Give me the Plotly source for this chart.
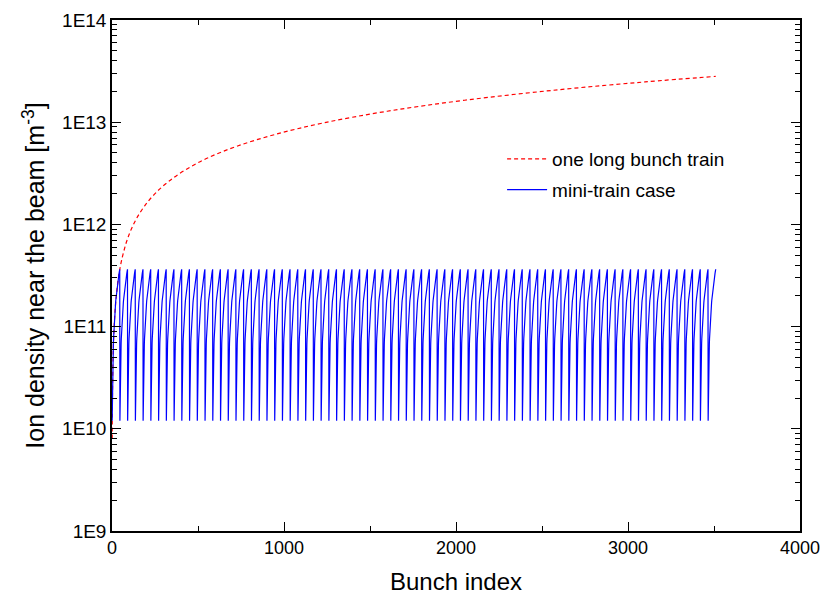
import plotly.graph_objects as go

# One long bunch train: ion density sampled along the train (bunch index, m^-3)
long_train_index = [1, 2, 3, 4, 6, 8, 11, 15, 20, 27, 36, 48, 64, 85, 110, 145, 190,
                    250, 330, 430, 560, 730, 950, 1230, 1600, 2050, 2600, 3100, 3510]
long_train_density = [8.0e9, 1.6e10, 2.4e10, 3.2e10, 4.8e10, 6.4e10, 8.8e10, 1.2e11,
                      1.6e11, 2.16e11, 2.9e11, 3.85e11, 5.1e11, 6.8e11, 8.8e11, 1.16e12,
                      1.52e12, 2.0e12, 2.64e12, 3.44e12, 4.5e12, 5.85e12, 7.6e12,
                      9.85e12, 1.28e13, 1.64e13, 2.08e13, 2.48e13, 2.81e13]

# Mini-train case: density profile across one mini-train (bunch 1..45), repeated per train
mini_train_profile = [1.2e10, 2.0e10, 2.8e10, 3.6e10, 4.4e10, 5.2e10, 6.0e10, 6.8e10,
                      7.6e10, 8.4e10, 9.2e10, 1.0e11, 1.08e11, 1.16e11, 1.24e11,
                      1.32e11, 1.40e11, 1.48e11, 1.56e11, 1.64e11, 1.72e11, 1.80e11,
                      1.88e11, 1.96e11, 2.04e11, 2.12e11, 2.20e11, 2.28e11, 2.36e11,
                      2.44e11, 2.52e11, 2.60e11, 2.68e11, 2.76e11, 2.84e11, 2.92e11,
                      3.00e11, 3.08e11, 3.16e11, 3.24e11, 3.32e11, 3.40e11, 3.48e11,
                      3.56e11, 3.64e11]
n_mini_trains = 78

y_tick_vals = [1e9, 1e10, 1e11, 1e12, 1e13, 1e14]
y_tick_text = ["1E9", "1E10", "1E11", "1E12", "1E13", "1E14"]
x_tick_vals = [0, 1000, 2000, 3000, 4000]

train_len = len(mini_train_profile)
mini_x, mini_y = [], []
for t in range(n_mini_trains):
    for j, v in enumerate(mini_train_profile):
        mini_x.append(t * train_len + j + 1)
        mini_y.append(v)

minor_y = [m * 10 ** e for e in range(9, 14) for m in range(2, 10)]

font_family = "Liberation Sans, Arial, sans-serif"

fig = go.Figure()
fig.add_trace(go.Scatter(
    x=long_train_index, y=long_train_density, mode="lines",
    name="one long bunch train", line_shape="spline", legendgroup="a",
    line=dict(color="#ff0000", width=1.2, dash="4px,3px"),
))
fig.add_trace(go.Scatter(
    x=mini_x, y=mini_y, mode="lines", name="mini-train case", legendgroup="b",
    line=dict(color="#0000ff", width=1.2),
))

fig.update_layout(
    width=824, height=600,
    margin=dict(l=112, r=24, t=20, b=69, autoexpand=False),
    paper_bgcolor="white", plot_bgcolor="white",
    font=dict(family=font_family, size=18, color="black"),
    showlegend=True,
    legend=dict(x=0.567, y=0.765, xanchor="left", yanchor="top",
                bgcolor="rgba(0,0,0,0)", font=dict(size=19),
                itemwidth=40, tracegroupgap=3),
)
fig.update_xaxes(
    range=[0, 4000], tickmode="array", tickvals=x_tick_vals,
    automargin=False, ticklabeloverflow="allow",
    ticks="inside", ticklen=9, tickwidth=1.2, tickcolor="black",
    showline=True, linecolor="black", linewidth=1.5, mirror="ticks",
    showgrid=False, zeroline=False,
    minor=dict(ticks="inside", ticklen=5, tickwidth=1.2, tickcolor="black",
               tickmode="linear", tick0=0, dtick=500, showgrid=False),
    title=dict(text="Bunch index", font=dict(size=24), standoff=16),
    tickfont=dict(size=18),
)
fig.update_yaxes(
    type="log", range=[9, 14], tickmode="array",
    tickvals=y_tick_vals, ticktext=y_tick_text,
    automargin=False,
    ticks="inside", ticklen=9, tickwidth=1.2, tickcolor="black",
    showline=True, linecolor="black", linewidth=1.5, mirror="ticks",
    showgrid=False, zeroline=False,
    minor=dict(ticks="inside", ticklen=5, tickwidth=1.2, tickcolor="black",
               tickmode="array", tickvals=minor_y, showgrid=False),
    title=dict(text="Ion density near the beam [m<sup>-3</sup>]",
               font=dict(size=25), standoff=10),
    tickfont=dict(size=19),
)

fig.write_html("out.html")
